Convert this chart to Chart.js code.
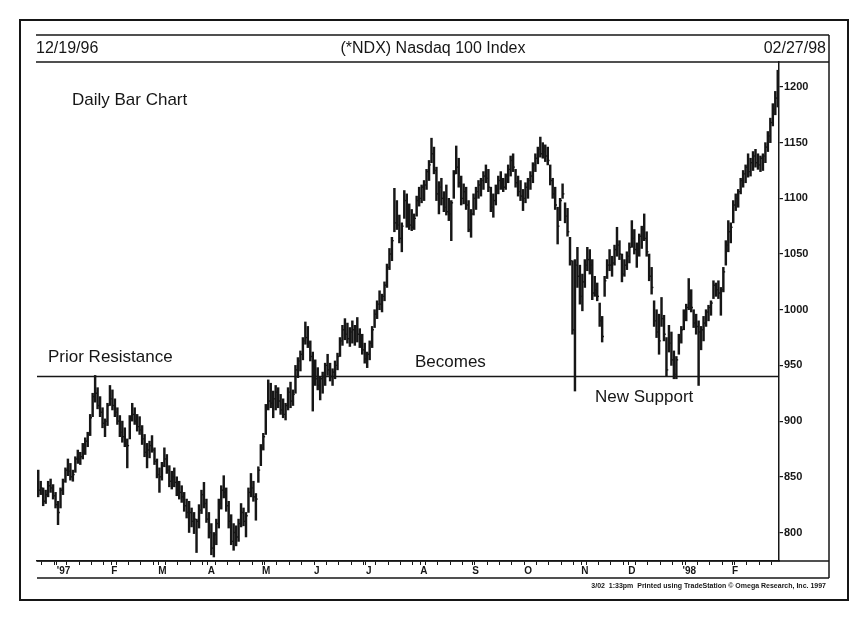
<!DOCTYPE html>
<html>
<head>
<meta charset="utf-8">
<title>(*NDX) Nasdaq 100 Index</title>
<script src="https://cdn.jsdelivr.net/npm/chart.js@4.4.1/dist/chart.umd.min.js"></script>
<style>
  html, body { margin: 0; padding: 0; background: #fff; }
  #chart { display: block; }
</style>
</head>
<body>
<canvas id="chart" width="860" height="620"></canvas>
<script>
// Daily bars 12/19/96 .. 02/27/98 (one per trading day)
const highs = [
  856,846,840,838,846,848,843,836,828,840,
  848,858,866,862,856,868,874,872,880,885,
  890,906,925,941,930,922,912,902,916,932,
  928,920,912,905,900,894,884,905,916,912,
  906,904,896,888,880,882,887,876,866,858,
  863,876,870,860,855,858,850,846,842,836,
  830,828,822,818,812,825,838,845,830,818,
  808,800,812,830,842,851,840,828,816,808,
  806,812,826,822,818,840,853,846,835,859,
  879,889,915,937,934,927,932,930,924,920,
  916,930,935,928,950,957,963,975,989,985,
  972,962,955,948,940,944,952,960,952,947,
  954,961,975,986,992,988,984,990,986,993,
  983,978,970,962,972,985,1000,1008,1017,1014,
  1025,1041,1055,1065,1109,1098,1085,1078,1107,1104,
  1095,1090,1086,1102,1110,1112,1116,1126,1134,1154,
  1146,1128,1115,1118,1106,1112,1100,1098,1125,1147,
  1136,1120,1113,1110,1098,1090,1104,1110,1116,1118,
  1124,1130,1126,1110,1104,1112,1120,1124,1118,1122,
  1130,1138,1140,1126,1120,1116,1108,1114,1118,1124,
  1132,1140,1146,1155,1150,1148,1146,1130,1118,1110,
  1092,1100,1113,1096,1091,1065,1044,1045,1056,1040,
  1032,1045,1056,1054,1045,1030,1024,1006,994,1030,
  1045,1054,1048,1058,1074,1062,1050,1045,1052,1060,
  1080,1072,1060,1068,1075,1086,1070,1050,1038,1008,
  1000,996,1011,995,975,986,980,963,958,978,
  985,1000,1005,1028,1018,1000,996,990,985,994,
  1000,1004,1008,1026,1024,1026,1020,1038,1062,1080,
  1078,1098,1104,1108,1118,1125,1130,1140,1136,1142,
  1144,1140,1138,1140,1150,1160,1172,1185,1196,1215
];
const lows = [
  832,834,824,826,832,836,830,822,807,822,
  834,845,851,847,846,854,862,861,866,870,
  877,887,904,917,911,904,894,886,896,914,
  910,904,897,886,881,877,858,884,900,897,
  891,888,879,868,858,867,872,861,849,836,
  847,859,853,841,839,841,833,830,827,819,
  813,800,805,799,782,804,817,822,809,795,
  780,778,789,804,821,831,819,804,789,784,
  788,792,805,806,796,818,832,828,811,845,
  860,874,888,910,912,903,910,912,906,903,
  901,910,912,914,925,939,945,955,969,966,
  954,909,932,928,919,925,932,941,936,932,
  938,946,958,968,973,970,967,970,968,971,
  966,960,952,948,955,966,984,992,1000,998,
  1008,1020,1036,1044,1070,1072,1060,1052,1082,1074,
  1072,1071,1072,1084,1093,1096,1098,1108,1116,1132,
  1122,1098,1086,1094,1088,1085,1080,1062,1100,1122,
  1110,1094,1095,1090,1070,1065,1085,1090,1100,1102,
  1108,1114,1106,1088,1083,1094,1104,1108,1106,1108,
  1114,1120,1124,1110,1102,1098,1089,1096,1100,1108,
  1114,1124,1131,1137,1136,1133,1130,1112,1100,1090,
  1059,1080,1100,1078,1066,1040,978,927,1020,1005,
  999,1020,1035,1032,1009,1012,1008,985,971,1012,
  1028,1035,1030,1040,1048,1045,1025,1030,1036,1042,
  1056,1050,1038,1048,1055,1062,1048,1026,1014,985,
  975,960,985,972,940,962,950,938,938,960,
  970,982,990,1000,998,984,978,932,964,972,
  985,990,995,1010,1012,1010,995,1016,1040,1052,
  1060,1078,1089,1092,1104,1110,1114,1119,1120,1125,
  1128,1126,1124,1125,1132,1142,1150,1165,1175,1182
];
const closes = [
  838,840,828,834,842,840,833,825,818,838,
  846,856,855,850,852,866,866,868,878,882,
  888,903,922,925,914,908,898,900,914,920,
  914,908,900,890,886,880,878,902,906,900,
  895,892,884,872,874,878,874,864,852,850,
  860,866,856,846,850,845,838,836,832,824,
  818,818,810,812,810,820,834,826,812,800,
  786,798,808,826,838,836,824,810,792,800,
  796,808,818,810,815,836,840,832,830,856,
  876,886,912,918,916,920,926,918,910,906,
  914,926,918,924,946,954,960,972,975,970,
  958,950,938,932,938,940,950,946,940,944,
  950,958,972,982,978,974,980,982,985,978,
  970,964,956,960,970,982,996,1005,1005,1012,
  1022,1038,1050,1062,1078,1076,1064,1075,1098,1080,
  1076,1074,1082,1098,1100,1110,1112,1124,1130,1140,
  1125,1104,1110,1100,1092,1088,1086,1096,1122,1128,
  1114,1100,1106,1094,1072,1086,1100,1106,1112,1116,
  1120,1118,1110,1092,1098,1108,1116,1114,1110,1120,
  1126,1134,1128,1114,1106,1102,1100,1110,1116,1120,
  1130,1136,1144,1140,1142,1138,1134,1116,1104,1094,
  1075,1098,1104,1084,1070,1044,982,1040,1030,1012,
  1025,1040,1045,1040,1015,1018,1012,990,976,1026,
  1040,1040,1042,1054,1058,1050,1032,1040,1048,1056,
  1064,1054,1058,1066,1072,1064,1052,1030,1020,990,
  980,972,992,978,946,970,955,942,955,972,
  982,998,1002,1006,1002,988,985,980,982,988,
  998,1002,1006,1022,1018,1015,1018,1034,1058,1070,
  1074,1094,1100,1106,1116,1122,1128,1124,1132,1138,
  1132,1130,1136,1138,1146,1156,1168,1180,1190,1208
];

// time axis: first trading day of each month (bar index) and its label
const monthLabels = ["'97", 'F', 'M', 'A', 'M', 'J', 'J', 'A', 'S', 'O', 'N', 'D', "'98", 'F'];
const monthStarts = [8, 30, 49, 69, 91, 112, 133, 155, 176, 197, 220, 239, 261, 281];
const priceTicks = [800, 850, 900, 950, 1000, 1050, 1100, 1150, 1200];
const resistance = 940;

const FONT = "'Liberation Sans', Arial, sans-serif";
const INK = '#161616';

// small tick every trading week along the time axis
const weekTicks = [];
for (let d = 2; d < highs.length; d += 5) weekTicks.push(d - 0.5);

const frame = {
  id: 'frame',
  afterDraw(chart) {
    const ctx = chart.ctx;
    const a = chart.chartArea;
    const line = (x1, y1, x2, y2) => {
      ctx.beginPath(); ctx.moveTo(x1, y1); ctx.lineTo(x2, y2); ctx.stroke();
    };
    ctx.save();
    ctx.strokeStyle = INK;
    ctx.lineWidth = 2;
    ctx.strokeRect(20, 20, 828, 580);

    ctx.lineWidth = 1.5;
    line(36, 35, 829, 35);
    line(36, a.top, 829, a.top);
    line(829, 35, 829, 578);
    line(a.left, a.bottom, 829, a.bottom);
    line(a.left, 578, 829, 578);

    ctx.fillStyle = INK;
    ctx.textBaseline = 'middle';
    ctx.font = '16px ' + FONT;
    ctx.textAlign = 'left';
    ctx.fillText('12/19/96', 36, 49);
    ctx.textAlign = 'center';
    ctx.fillText('(*NDX) Nasdaq 100 Index', 433, 49);
    ctx.textAlign = 'right';
    ctx.fillText('02/27/98', 826, 49);

    ctx.textAlign = 'left';
    ctx.font = '17px ' + FONT;
    ctx.fillText('Daily Bar Chart', 72, 100);
    ctx.fillText('Prior Resistance', 48, 357);
    ctx.fillText('Becomes', 415, 362);
    ctx.fillText('New Support', 595, 397);

    ctx.font = 'bold 7px ' + FONT;
    ctx.textAlign = 'right';
    ctx.fillText('3/02  1:33pm  Printed using TradeStation \u00A9 Omega Research, Inc. 1997', 826, 586);
    ctx.restore();
  }
};

new Chart(document.getElementById('chart'), {
  type: 'bar',
  data: {
    datasets: [
      {
        type: 'line',
        data: [{ x: -0.5, y: resistance }, { x: highs.length - 0.5, y: resistance }],
        borderColor: INK,
        borderWidth: 1.6,
        pointRadius: 0,
        order: 1
      },
      {
        type: 'line',
        data: closes.map((c, i) => ({ x: i, y: c })),
        showLine: false,
        pointStyle: 'dash',
        pointRadius: 1.8,
        pointBorderWidth: 1.4,
        pointBorderColor: INK,
        order: 2
      },
      {
        type: 'bar',
        data: highs.map((h, i) => ({ x: i, y: [lows[i], h] })),
        backgroundColor: INK,
        barThickness: 1.8,
        order: 3
      }
    ]
  },
  options: {
    responsive: false,
    animation: false,
    layout: { padding: { left: 37, top: 62, right: 31, bottom: 42 } },
    plugins: { legend: { display: false }, tooltip: { enabled: false } },
    scales: {
      x: {
        type: 'linear',
        min: -0.5,
        max: highs.length - 0.5,
        offset: false,
        afterBuildTicks: (scale) => {
          const vals = new Set([...weekTicks, ...monthStarts.map(m => m - 0.5)]);
          scale.ticks = [...vals].sort((p, q) => p - q).map(v => ({ value: v }));
        },
        afterFit: (scale) => { scale.height = 17; },
        grid: { drawOnChartArea: false, offset: false, tickLength: 4, color: INK, lineWidth: 1 },
        border: { display: true, color: INK, width: 1.5 },
        ticks: {
          autoSkip: false,
          maxRotation: 0,
          align: 'start',
          padding: 0,
          color: INK,
          font: { family: FONT, size: 10, weight: 'bold' },
          callback: (value) => {
            const k = monthStarts.indexOf(value + 0.5);
            return k < 0 ? '' : monthLabels[k];
          }
        }
      },
      y: {
        position: 'right',
        min: 774.4,
        max: 1222.4,
        afterBuildTicks: (scale) => { scale.ticks = priceTicks.map(v => ({ value: v })); },
        afterFit: (scale) => { scale.width = 50; },
        grid: { drawOnChartArea: false, tickLength: 4, color: INK, lineWidth: 1.2 },
        border: { display: true, color: INK, width: 1.5 },
        ticks: {
          padding: 1,
          color: INK,
          font: { family: FONT, size: 11, weight: 'bold' },
          callback: (value) => String(value)
        }
      }
    }
  },
  plugins: [frame]
});
</script>
</body>
</html>
